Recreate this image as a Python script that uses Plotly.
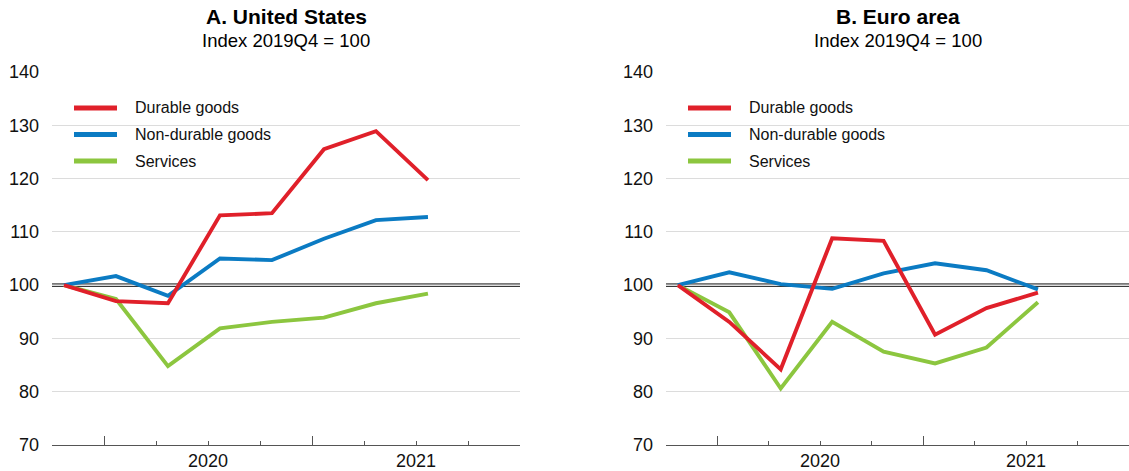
import numpy as np
import plotly.graph_objects as go
from plotly.subplots import make_subplots

# Quarters shown (2019Q4 = 100)
quarters = ["2019Q4", "2020Q1", "2020Q2", "2020Q3", "2020Q4", "2021Q1", "2021Q2", "2021Q3"]
year_labels = ["2020", "2021"]

# A. United States
us_durable = [100, 97.0, 96.6, 113.1, 113.5, 125.5, 128.9, 119.7]
us_nondurable = [100, 101.7, 98.0, 105.0, 104.7, 108.7, 112.2, 112.8]
us_services = [100, 97.4, 84.8, 91.9, 93.1, 93.9, 96.6, 98.4]

# B. Euro area
ea_durable = [100, 93.1, 84.2, 108.8, 108.3, 90.7, 95.7, 98.6]
ea_nondurable = [100, 102.4, 100.2, 99.3, 102.2, 104.1, 102.8, 99.2]
ea_services = [100, 94.9, 80.6, 93.1, 87.5, 85.3, 88.3, 96.8]

series_names = ["Durable goods", "Non-durable goods", "Services"]
colors = ["#E0202A", "#0B7BC3", "#8CC63F"]

W, H = 1129, 471
ML, MR, MT, MB = 52, 0, 72, 26
FONT = "Liberation Sans, Arial, sans-serif"


def px_x(px):
    return (px - ML) / (W - ML - MR)


def px_y(py):
    return (H - MB - py) / (H - MT - MB)


# each point sits a little after the start of its quarter slot
xq = np.arange(len(quarters)) + 0.23

fig = make_subplots(rows=1, cols=2, horizontal_spacing=0.1356)
fig.update_xaxes(domain=[0, px_x(520)], row=1, col=1)
fig.update_xaxes(domain=[px_x(666), 1.0], row=1, col=2)

panels = [
    (1, [us_durable, us_nondurable, us_services]),
    (2, [ea_durable, ea_nondurable, ea_services]),
]
for col, data in panels:
    # draw services first so durable goods ends up on top
    for i in [2, 1, 0]:
        fig.add_trace(go.Scatter(x=xq, y=data[i], mode="lines", name=series_names[i],
                                 line=dict(color=colors[i], width=3.9),
                                 showlegend=False, hoverinfo="skip"),
                      row=1, col=col)

fig.update_xaxes(range=[0, 9], showgrid=False, zeroline=False,
                 showline=True, linecolor="#555", linewidth=1,
                 ticks="inside", tickvals=[1, 5, 9], ticktext=["", "", ""],
                 ticklen=9, tickcolor="#555", tickwidth=1,
                 minor=dict(ticks="inside", dtick=1, tick0=0, ticklen=4,
                            tickcolor="#555", tickwidth=1, showgrid=False))
fig.update_yaxes(range=[70, 140], dtick=10, showgrid=True, gridcolor="#DCDCDC",
                 gridwidth=1, zeroline=False, showline=False, ticks="",
                 ticklabelstandoff=12,
                 tickfont=dict(family=FONT, size=18, color="#111"))

shapes = []
annotations = []

# double line at 100
for ax in ["", "2"]:
    for off in [-1.2, 1.2]:
        shapes.append(dict(type="line", xref="x%s domain" % ax, yref="y" + ax,
                           x0=0, x1=1, ysizemode="pixel", yanchor=100,
                           y0=off, y1=off, line=dict(color="#111", width=1),
                           layer="below"))

titles = ["<b>A. United States</b>", "<b>B. Euro area</b>"]
left_px = [52, 666]
right_px = [520, 1129]
for k in range(2):
    cx = px_x((left_px[k] + right_px[k]) / 2)
    annotations.append(dict(text=titles[k], xref="paper", yref="paper",
                            x=cx, y=px_y(17), xanchor="center", yanchor="middle",
                            showarrow=False, font=dict(family=FONT, size=21, color="#000")))
    annotations.append(dict(text="Index 2019Q4 = 100", xref="paper", yref="paper",
                            x=cx, y=px_y(41), xanchor="center", yanchor="middle",
                            showarrow=False, font=dict(family=FONT, size=18.5, color="#000")))
    # year labels centred under each year's four quarters
    ax = "x" if k == 0 else "x2"
    for j, lab in enumerate(year_labels):
        annotations.append(dict(text=lab, xref=ax, yref="paper", x=3 + 4 * j,
                                y=px_y(461), xanchor="center", yanchor="middle",
                                showarrow=False, font=dict(family=FONT, size=18, color="#111")))
    # legend drawn by hand
    for i, name in enumerate(series_names):
        ly = px_y(108 + 26.5 * i)
        shapes.append(dict(type="line", xref="paper", yref="paper",
                           x0=px_x(left_px[k] + 22), x1=px_x(left_px[k] + 65),
                           y0=ly, y1=ly, line=dict(color=colors[i], width=5)))
        annotations.append(dict(text=name, xref="paper", yref="paper",
                                x=px_x(left_px[k] + 81), y=ly, xanchor="left",
                                yanchor="middle", showarrow=False,
                                font=dict(family=FONT, size=16, color="#111")))

fig.update_layout(width=W, height=H, margin=dict(l=ML, r=MR, t=MT, b=MB),
                  paper_bgcolor="white", plot_bgcolor="white",
                  shapes=shapes, annotations=annotations, showlegend=False)

# drop the page's default body margin so the figure fills the window
fig.write_html("out.html", config={"displayModeBar": False},
               post_script="document.body.style.margin='0';")
